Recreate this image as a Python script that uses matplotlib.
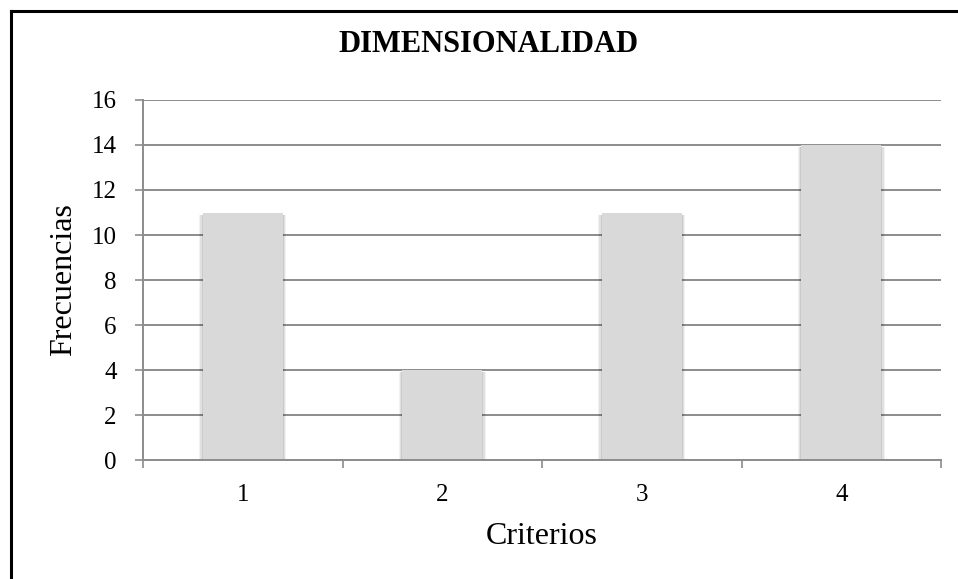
import numpy as np
import matplotlib
matplotlib.use("Agg")
import matplotlib.pyplot as plt
from matplotlib.lines import Line2D

criterios = [1, 2, 3, 4]
frecuencias = [11, 4, 11, 14]
yticks = [0, 2, 4, 6, 8, 10, 12, 14, 16]

plt.rcParams["font.family"] = ["Liberation Serif", "DejaVu Serif"]

fig = plt.figure(figsize=(9.58, 5.79), dpi=100)
ax = fig.add_axes([0.1493, 0.2055, 0.8330, 0.6218])

grid_c = "#8c8c8c"
bar_c = "#d9d9d9"
width = 0.4

# soft shadow under the bars
for k, a in zip([0.018, 0.012, 0.006], [0.05, 0.07, 0.09]):
    ax.bar(criterios, [v + 0.02 for v in frecuencias], width=width + 2 * k,
           bottom=-0.12, color="black", alpha=a, linewidth=0, zorder=2)
ax.bar(criterios, frecuencias, width=width, color=bar_c, linewidth=0, zorder=3)

ax.set_xlim(0.5, 4.5)
ax.set_ylim(0, 16)
ax.set_yticks(yticks)
ax.set_xticks(criterios)
ax.set_xticks([0.5, 1.5, 2.5, 3.5, 4.5], minor=True)
ax.yaxis.grid(True, color=grid_c, linewidth=1.4, zorder=1)
ax.set_axisbelow(True)

for s in ["top", "right"]:
    ax.spines[s].set_visible(False)
for s in ["left", "bottom"]:
    ax.spines[s].set_color(grid_c)
    ax.spines[s].set_linewidth(1.4)
    ax.spines[s].set_zorder(4)

ax.tick_params(axis="y", length=6, width=1.2, color=grid_c, labelsize=18, pad=13)
ax.tick_params(axis="x", which="major", length=0, labelsize=18, pad=17)
ax.tick_params(axis="x", which="minor", length=6, width=1.2, color=grid_c)

ax.set_xlabel("Criterios", fontsize=23, labelpad=12)
ax.set_ylabel("Frecuencias", fontsize=23, labelpad=10)
fig.text(0.51, 0.924, "DIMENSIONALIDAD", ha="center", va="center",
         fontsize=22, fontweight="bold")

# frame edges of the chart area
fig.add_artist(Line2D([0.0115, 0.0115], [0, 0.981], color="black", lw=2.2,
                      transform=fig.transFigure))
fig.add_artist(Line2D([0.0115, 1], [0.981, 0.981], color="black", lw=2.2,
                      transform=fig.transFigure))

fig.savefig("out.png", dpi=100)
